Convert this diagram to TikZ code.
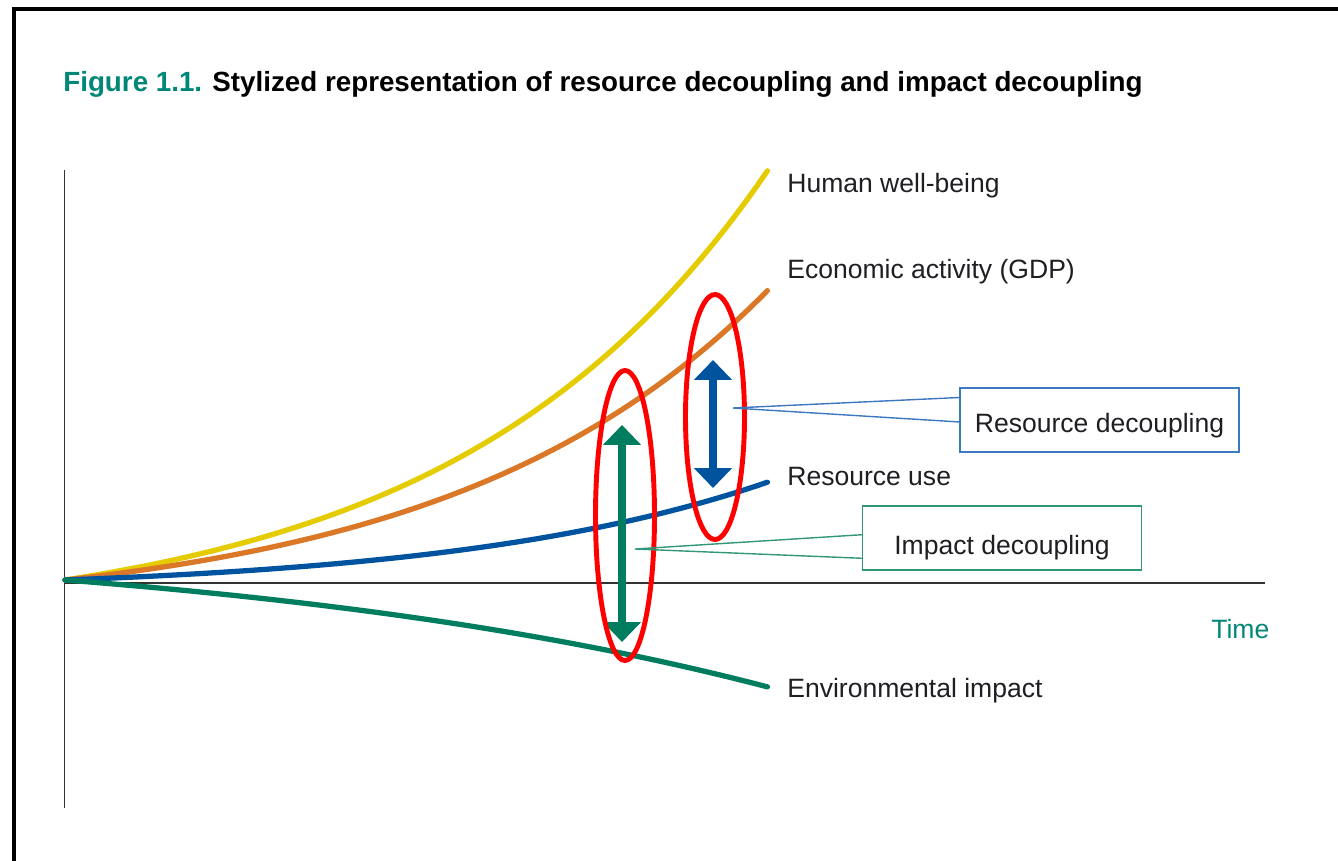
\documentclass[tikz,border=0pt]{standalone}
\usepackage{fontspec}
\setmainfont{Liberation Sans}
\usetikzlibrary{arrows.meta,calc}
\definecolor{wellyellow}{RGB}{228,204,0}
\definecolor{gdporange}{RGB}{218,120,40}
\definecolor{useblue}{RGB}{0,84,159}
\definecolor{impactgreen}{RGB}{0,125,95}
\definecolor{titleteal}{RGB}{0,135,120}
\definecolor{ringred}{RGB}{255,0,0}
\definecolor{boxblue}{RGB}{60,120,190}
\definecolor{boxgreen}{RGB}{50,150,120}
\definecolor{labeltext}{RGB}{30,30,35}
\def\expcurve[#1](#2:#3){\draw[#1] plot[domain=0:1, samples=70] ({65+703*\x}, {580-#2*(exp(#3*\x)-1)/(exp(#3)-1)});}

\tikzset{
  curve/.style={line width=3pt, line cap=round},
  lbl/.style={anchor=base west, inner sep=0pt, text=labeltext, font=\fontsize{15.1}{18}\selectfont},
  callbox/.style={draw, line width=0.8pt, minimum width=5.58cm, minimum height=1.28cm, inner sep=0pt, text=labeltext, text depth=0pt, font=\fontsize{15.1}{18}\selectfont},
  twohead/.style={line width=4pt, {Triangle[width=21pt,length=11.3pt]}-{Triangle[width=21pt,length=11.3pt]}},
  redring/.style={draw=ringred, line width=2.8pt}
}

\begin{document}
\begin{tikzpicture}[x=0.02cm, y=-0.02cm]
			%%%%% START %%%%%
			\useasboundingbox (0, 0) rectangle (1338, 861);
			
			\draw[line width=2.1pt] (14, 861) -- (14, 9.2) -- (1338, 9.2);
			
			\node[anchor=base west, inner sep=0pt, font=\bfseries\fontsize{15.8}{19}\selectfont] (title) at (63, 92) {\textcolor{titleteal}{Figure 1.1.} Stylized representation of resource decoupling and impact decoupling};
			
			\draw[line width=0.9pt, color=black!80] (64.5, 170) -- (64.5, 808);
			\draw[line width=0.9pt, color=black!80] (64.5, 583) -- (1265, 583);
			\node[lbl, text=titleteal] (time) at (1211, 638) {Time};
			
			\expcurve[curve, wellyellow](410:2.25);
			\expcurve[curve, gdporange](290:2.2);
			\expcurve[curve, useblue](98:2.2);
			\expcurve[curve, impactgreen](-107:1.2);
			
			\node[lbl] (wellbeing) at (787, 193) {Human well-being};
			\node[lbl] (gdp) at (787, 279) {Economic activity (GDP)};
			\node[lbl] (resuse) at (787, 485) {Resource use};
			\node[lbl] (envimpact) at (787, 697) {Environmental impact};
			
			\draw[twohead, useblue] (713, 360) -- (713, 488);
			\draw[twohead, impactgreen] (622, 425) -- (622, 642);
			
			\draw[redring] (625, 515.5) ellipse [x radius=29.5, y radius=145];
			\draw[redring] (715, 417) ellipse [x radius=29.5, y radius=122.5];
			
			\coordinate (rdtip) at (733, 408);
			\node[callbox, draw=boxblue, text height=14.7pt] (rdbox) at (1099.5, 420) {Resource decoupling};
			\draw[boxblue, line width=0.8pt] ($(rdbox.north west)!0.156!(rdbox.south west)$) -- (rdtip) -- ($(rdbox.north west)!0.53!(rdbox.south west)$);
			
			\coordinate (idtip) at (635, 549);
			\node[callbox, draw=boxgreen, text height=19.3pt] (idbox) at (1002, 538) {Impact decoupling};
			\draw[boxgreen, line width=0.8pt] ($(idbox.north west)!0.45!(idbox.south west)$) -- (idtip) -- ($(idbox.north west)!0.81!(idbox.south west)$);
			
			%%%%% END %%%%%
		\end{tikzpicture}
\end{document}
